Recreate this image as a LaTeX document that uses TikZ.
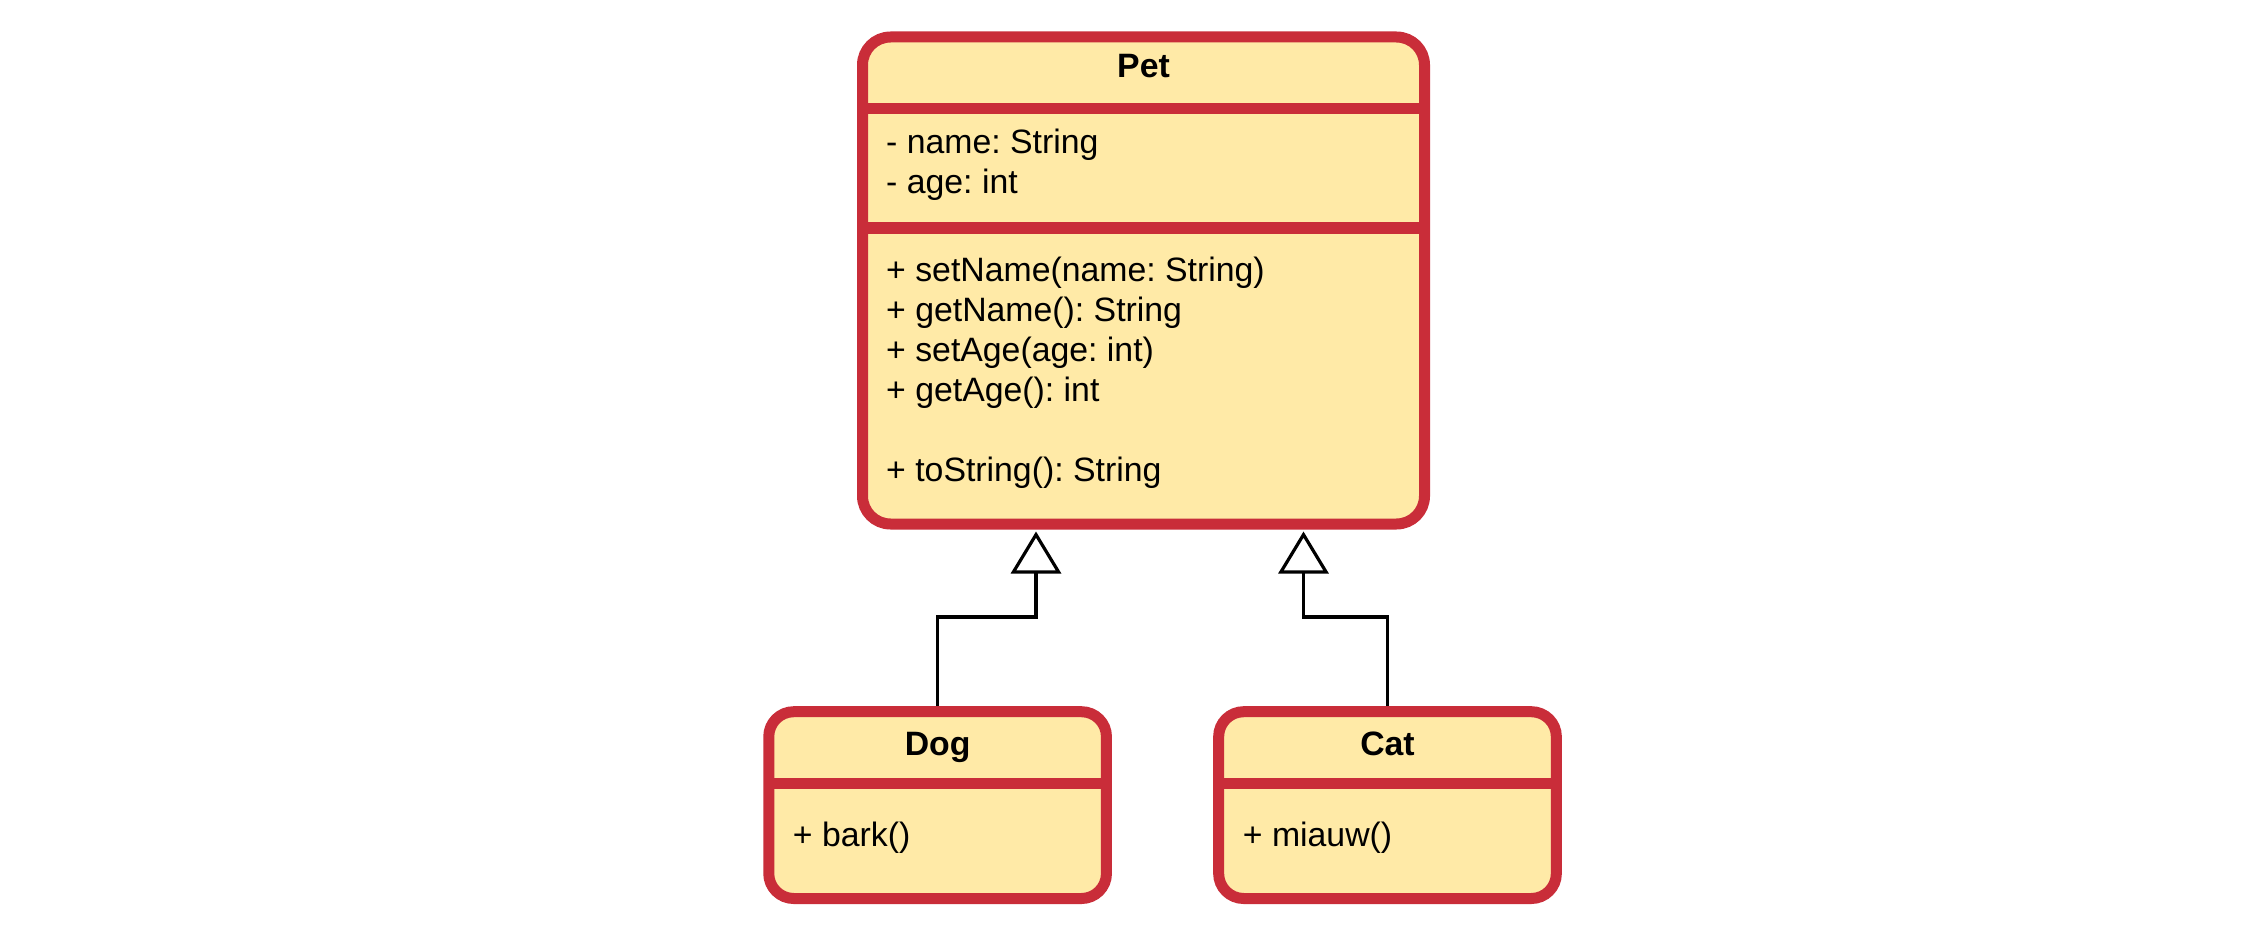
\documentclass[tikz,border=0pt]{standalone}
\usepackage{fontspec}
\setmainfont{Liberation Sans}
\usetikzlibrary{arrows.meta}
\definecolor{umlred}{HTML}{C92D39}
\definecolor{umlfill}{HTML}{FFEAA7}
\frenchspacing
\begin{document}
\begin{tikzpicture}[x=1pt,y=-1pt,
  classbox/.style={draw=umlred, fill=umlfill, line width=11pt, inner sep=0pt, outer sep=0pt},
  sepline/.style={draw=umlred, line width=11pt},
  title/.style={font=\fontsize{33.8}{40}\selectfont\bfseries, inner sep=0pt, anchor=base},
  member/.style={font=\fontsize{33.8}{40}\selectfont, inner sep=0pt, anchor=base west},
  inherit/.style={draw=black, line width=3.2pt, -{Triangle[open, length=42pt, width=50pt]}},
]
\useasboundingbox[fill=white] (0,0) rectangle (2243,928);

% classes
\node[classbox, rounded corners=28pt, minimum width=562pt, minimum height=487pt] (pet) at (1143.5,280.5) {};
\node[classbox, rounded corners=25pt, minimum width=337.7pt, minimum height=186.8pt] (dog) at (937.6,805.1) {};
\node[classbox, rounded corners=25pt, minimum width=337.7pt, minimum height=186.8pt] (cat) at (1387.5,805.1) {};

% compartment separators
\draw[sepline] (pet.west |- 0,108.4) -- (pet.east |- 0,108.4);
\draw[sepline] (pet.west |- 0,228) -- (pet.east |- 0,228);
\draw[sepline] (dog.west |- 0,783.7) -- (dog.east |- 0,783.7);
\draw[sepline] (cat.west |- 0,783.7) -- (cat.east |- 0,783.7);

% texts
\node[title] (pettitle) at (1143.5,77.3) {Pet};
\node[member] (pa1) at (886,154) {- name: String};
\node[member] (pa2) at (886,193.5) {- age: int};
\node[member] (pm1) at (886,281) {+ setName(name: String)};
\node[member] (pm2) at (886,321) {+ getName(): String};
\node[member] (pm3) at (886,361) {+ setAge(age: int)};
\node[member] (pm4) at (886,401) {+ getAge(): int};
\node[member] (pm5) at (886,481) {+ toString(): String};

\node[title] (dogtitle) at (937.6,755) {Dog};
\node[member] (dm1) at (792.7,846.7) {+ bark()};
\node[title] (cattitle) at (1387.5,755) {Cat};
\node[member] (cm1) at (1242.7,846.7) {+ miauw()};

% generalisation connectors
\coordinate (petinD) at (1036,531.5);
\coordinate (petinC) at (1303.5,531.5);
\draw[inherit] ([yshift=5.5pt]dog.north) -- (dog.north |- 0,617) -| (petinD);
\draw[inherit] ([yshift=5.5pt]cat.north) -- (cat.north |- 0,617) -| (petinC);
\end{tikzpicture}
\end{document}
